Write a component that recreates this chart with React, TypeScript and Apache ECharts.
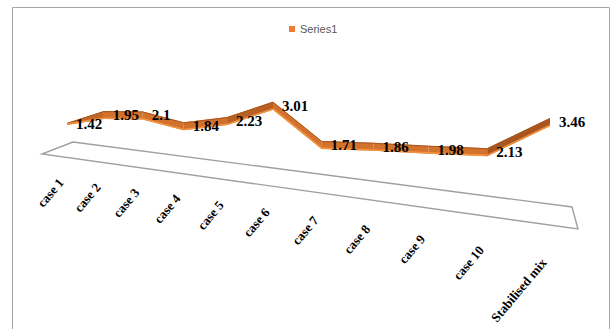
import React, { useEffect, useRef } from "react";
import * as echarts from "echarts";

const categories = [
  "case 1", "case 2", "case 3", "case 4", "case 5", "case 6",
  "case 7", "case 8", "case 9", "case 10", "Stabilised mix",
];
const seriesName = "Series1";
const values = [1.42, 1.95, 2.1, 1.84, 2.23, 3.01, 1.71, 1.86, 1.98, 2.13, 3.46];
const valueMin = 0;
const valueMax = 4;

// 3D look parameters (perspective warp applied to ECharts' own coords)
const PERSP = 0.2563;
const SKEW = 0.126;
const DEPTH_GROWTH = 1 / 6;
const RIBBON_H = 8;

function warp(p: number[], left: number, width: number, baseY: number) {
  const t = (p[0] - left) / width;
  const g = ((1 - PERSP) * t) / (1 - PERSP * t);
  const X = left + width * g;
  const Y = baseY + SKEW * (X - left) - (baseY - p[1]) * (1 + DEPTH_GROWTH * t);
  return [X, Y];
}

function mix(a: number[], b: number[], k: number) {
  const c = a.map((v, i) => Math.round(v + (b[i] - v) * k));
  return `rgb(${c[0]},${c[1]},${c[2]})`;
}

export default function App() {
  const ref = useRef<HTMLDivElement>(null);
  useEffect(() => {
    if (!ref.current) return;
    const chart = echarts.init(ref.current, null, { renderer: "svg" });

    const ribbonItem = (params: any, api: any) => {
      const i = params.dataIndex;
      const cs = params.coordSys;
      const baseY = cs.y + cs.height;
      const cur = warp(api.coord([i, values[i]]), cs.x, cs.width, baseY);
      const children: any[] = [];
      if (i < values.length - 1) {
        const nxt = warp(api.coord([i + 1, values[i + 1]]), cs.x, cs.width, baseY);
        const slope = (nxt[1] - cur[1]) / (nxt[0] - cur[0]);
        const k = Math.max(0, Math.min(1, (-slope - 0.1) / 0.4));
        const h = RIBBON_H / 2;
        const h0 = i === 0 ? 1 : h;
        children.push({
          type: "polygon",
          shape: {
            points: [
              [cur[0], cur[1] - h0],
              [nxt[0], nxt[1] - h],
              [nxt[0], nxt[1] + h],
              [cur[0], cur[1] + h0],
            ],
          },
          style: { fill: mix([210, 114, 44], [166, 84, 30], k), stroke: null },
        });
        children.push({
          type: "line",
          shape: { x1: cur[0], y1: cur[1] - h0 + 0.5, x2: nxt[0], y2: nxt[1] - h + 0.5 },
          style: { stroke: "#A9561F", lineWidth: 1 },
        });
        children.push({
          type: "line",
          shape: { x1: cur[0], y1: cur[1] + h0 - 0.8, x2: nxt[0], y2: nxt[1] + h - 0.8 },
          style: { stroke: "#F3923F", lineWidth: 1.6 },
        });
      }
      return { type: "group", children };
    };

    const labelItem = (params: any, api: any) => {
      const i = params.dataIndex;
      const cs = params.coordSys;
      const baseY = cs.y + cs.height;
      const cur = warp(api.coord([i, values[i]]), cs.x, cs.width, baseY);
      const dx = cur[0] - cs.x;
      const catY = baseY + 22 + 0.129 * dx + 7.6e-5 * dx * dx;
      return {
        type: "group",
        children: [
          {
            type: "text",
            x: cur[0] + 9,
            y: cur[1],
            style: {
              text: String(values[i]),
              fill: "#000",
              font: "bold 15px 'Liberation Serif', serif",
              align: "left",
              verticalAlign: "middle",
            },
          },
          {
            type: "text",
            x: cur[0] - 6,
            y: catY,
            rotation: (50 * Math.PI) / 180,
            style: {
              text: categories[i],
              fill: "#000",
              font: "bold 13px 'Liberation Serif', serif",
              align: "right",
              verticalAlign: "middle",
            },
          },
        ],
      };
    };

    chart.setOption({
      animation: false,
      backgroundColor: "#ffffff",
      legend: {
        data: [{ name: seriesName, icon: "rect", itemStyle: { color: "#ED7D31" } }],
        left: 289,
        top: 22,
        itemWidth: 6,
        itemHeight: 6,
        padding: 0,
        textStyle: { color: "#595959", fontSize: 11, fontFamily: "'Liberation Sans', sans-serif", lineHeight: 14 },
      },
      grid: { left: 67, right: 66, top: 62, bottom: 171 },
      xAxis: {
        type: "category",
        data: categories,
        boundaryGap: false,
        show: false,
      },
      yAxis: { type: "value", min: valueMin, max: valueMax, show: false },
      graphic: [
        {
          type: "rect",
          shape: { x: 12.5, y: 7.5, width: 597, height: 340 },
          style: { fill: "none", stroke: "#A6A6A6", lineWidth: 1 },
          silent: true,
        },
        {
          type: "polygon",
          shape: { points: [[73, 142], [572, 207], [578, 229], [42, 154]] },
          style: { fill: "#ffffff", stroke: "#A0A0A0", lineWidth: 1.4 },
          silent: true,
        },
      ],
      series: [
        {
          type: "custom",
          name: seriesName,
          renderItem: ribbonItem,
          data: values.map((v, i) => [i, v]),
          itemStyle: { color: "#ED7D31" },
          z: 3,
        },
        {
          type: "custom",
          name: "labels",
          renderItem: labelItem,
          data: values.map((v, i) => [i, v]),
          z: 4,
        },
      ],
    });
    return () => chart.dispose();
  }, []);
  return (
    <div
      ref={ref}
      style={{ position: "absolute", left: 0, top: 0, width: 616, height: 329 }}
    />
  );
}
